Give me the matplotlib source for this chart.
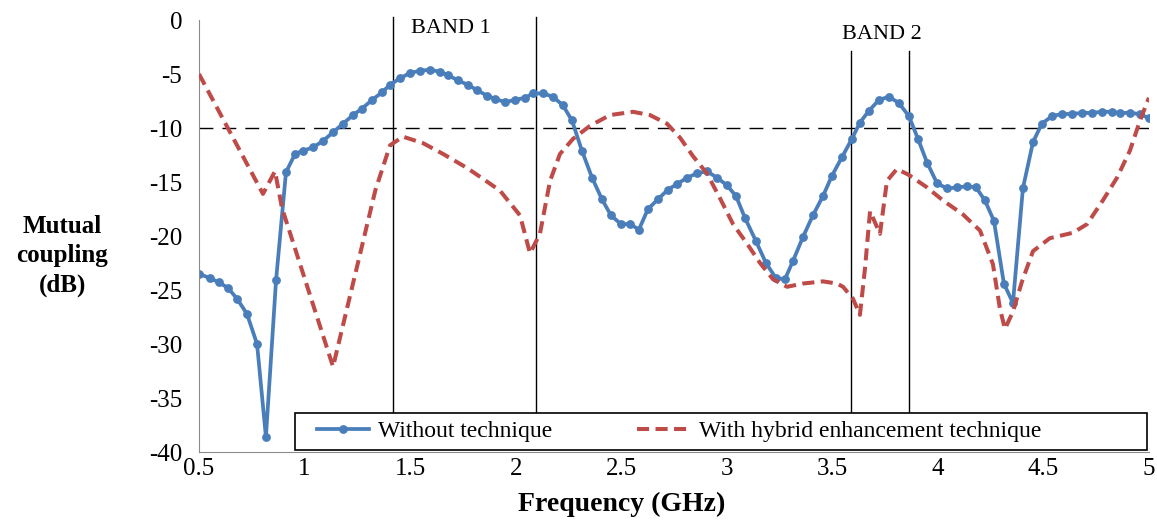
import matplotlib
matplotlib.use("Agg")
import matplotlib.pyplot as plt
from matplotlib.patches import Rectangle

plt.rcParams['font.family'] = ['Liberation Serif', 'DejaVu Serif']
plt.rcParams['axes.unicode_minus'] = False

# blue curve, without technique
freq_without = [0.5, 0.552, 0.595, 0.637, 0.68, 0.727, 0.775, 0.817, 0.865, 0.912,
                0.955, 0.993, 1.04, 1.087, 1.135, 1.182, 1.23, 1.272, 1.32, 1.367,
                1.405, 1.452, 1.5, 1.547, 1.594, 1.642, 1.68, 1.727, 1.774, 1.817,
                1.864, 1.902, 1.95, 1.997, 2.044, 2.082, 2.13, 2.177, 2.224, 2.267,
                2.314, 2.362, 2.409, 2.452, 2.499, 2.542, 2.584, 2.627, 2.674, 2.722,
                2.764, 2.812, 2.859, 2.906, 2.954, 3.001, 3.044, 3.086, 3.139, 3.186,
                3.233, 3.276, 3.314, 3.361, 3.408, 3.456, 3.499, 3.546, 3.593, 3.631,
                3.674, 3.721, 3.769, 3.816, 3.863, 3.906, 3.949, 3.996, 4.043, 4.091,
                4.138, 4.181, 4.223, 4.266, 4.313, 4.356, 4.403, 4.451, 4.493, 4.541,
                4.588, 4.635, 4.683, 4.73, 4.778, 4.825, 4.863, 4.91, 4.958, 5.0]
s_without = [-23.5, -23.9, -24.3, -24.8, -25.8, -27.2, -30.0, -38.6, -24.1, -14.1,
             -12.4, -12.1, -11.8, -11.2, -10.4, -9.6, -8.8, -8.2, -7.4, -6.7,
             -6.0, -5.4, -4.9, -4.7, -4.6, -4.8, -5.1, -5.6, -6.0, -6.5,
             -7.0, -7.3, -7.6, -7.4, -7.2, -6.8, -6.8, -7.1, -7.9, -9.3,
             -12.1, -14.6, -16.6, -18.1, -18.9, -18.9, -19.4, -17.5, -16.6, -15.7,
             -15.2, -14.6, -14.2, -14.0, -14.6, -15.3, -16.3, -18.3, -20.5, -22.5,
             -23.9, -24.0, -22.3, -20.1, -18.1, -16.3, -14.4, -12.7, -11.0, -9.5,
             -8.4, -7.4, -7.1, -7.7, -8.9, -11.0, -13.2, -15.1, -15.6, -15.5,
             -15.4, -15.5, -16.7, -18.6, -24.4, -26.2, -15.6, -11.3, -9.6, -8.9,
             -8.7, -8.7, -8.6, -8.6, -8.5, -8.5, -8.6, -8.6, -8.7, -9.1]

# red dashed curve, with hybrid enhancement technique
freq_hybrid = [0.5, 0.803, 0.86, 0.893, 1.135, 1.335, 1.405, 1.466, 1.561, 1.656,
               1.77, 1.845, 1.926, 2.021, 2.068, 2.115, 2.163, 2.21, 2.272, 2.352,
               2.447, 2.556, 2.636, 2.717, 2.779, 2.84, 2.906, 2.968, 3.03, 3.096,
               3.158, 3.219, 3.286, 3.361, 3.456, 3.522, 3.551, 3.598, 3.631, 3.655,
               3.679, 3.726, 3.759, 3.806, 3.859, 3.949, 4.024, 4.119, 4.2, 4.261,
               4.294, 4.318, 4.356, 4.399, 4.451, 4.531, 4.64, 4.707, 4.782, 4.849,
               4.91, 4.958, 5.0]
s_hybrid = [-5.0, -16.1, -14.0, -17.4, -32.1, -15.8, -11.6, -10.8, -11.4, -12.4,
            -13.7, -14.7, -15.8, -18.1, -21.6, -19.8, -14.9, -12.4, -11.0, -9.8,
            -8.8, -8.5, -8.8, -9.6, -10.9, -12.6, -14.2, -16.5, -18.9, -20.7,
            -22.5, -24.0, -24.7, -24.4, -24.2, -24.4, -24.7, -25.8, -27.3, -23.0,
            -17.7, -19.8, -14.9, -13.8, -14.3, -15.5, -16.7, -18.0, -19.5, -22.6,
            -26.7, -28.6, -27.0, -24.2, -21.4, -20.2, -19.7, -18.9, -16.7, -14.6,
            -12.1, -9.3, -7.2]

band1 = [1.419, 2.096]
band2 = [3.589, 3.863]
threshold = -10
xticks = [0.5, 1, 1.5, 2, 2.5, 3, 3.5, 4, 4.5, 5]
yticks = [0, -5, -10, -15, -20, -25, -30, -35, -40]

blue = '#4A7EBB'
red = '#BE4B48'

fig = plt.figure(figsize=(11.57, 5.28), dpi=100)
ax = fig.add_axes([0.172, 0.1439, 0.821, 0.8182])

ax.axhline(threshold, color='black', lw=1.0, dashes=(10, 6.5), zorder=1)
for xb in band1:
    ax.plot([xb, xb], [0.3, -37], color='black', lw=1.0, zorder=1, clip_on=False)
for xb in band2:
    ax.plot([xb, xb], [-2.9, -37], color='black', lw=1.0, zorder=1, clip_on=False)

ax.plot(freq_without, s_without, color=blue, lw=2.7, marker='o', markersize=5.3,
        label='Without technique', zorder=2)
ax.plot(freq_hybrid, s_hybrid, color=red, lw=2.9, dashes=(3, 1.6),
        label='With hybrid enhancement technique', zorder=3)

ax.text(1.694, -0.75, 'BAND 1', fontsize=16, ha='center', va='center')
ax.text(3.735, -1.3, 'BAND 2', fontsize=16, ha='center', va='center')

ax.set_xlim(0.5, 5)
ax.set_ylim(-40, 0)
ax.set_xticks(xticks)
ax.set_xticklabels([str(v) for v in xticks])
ax.set_yticks(yticks)
ax.tick_params(length=0, labelsize=18)
ax.tick_params(axis='y', pad=12)
ax.tick_params(axis='x', pad=4)
for side in ['top', 'right']:
    ax.spines[side].set_visible(False)
ax.spines['left'].set_color('#8c8c8c')
ax.spines['bottom'].set_color('#8c8c8c')

# legend box at the bottom of the plot
ax.add_patch(Rectangle((0.101, 0.005), 0.897, 0.085, transform=ax.transAxes,
                       facecolor='white', edgecolor='black', lw=1.2, zorder=4))
leg = ax.legend(loc='center left', bbox_to_anchor=(0.124, 0.0475), ncol=2,
                frameon=False, fontsize=17, handlelength=2.2, handletextpad=0.4,
                columnspacing=3.6, borderpad=0, borderaxespad=0)
leg.set_zorder(5)

fig.text(0.537, 0.045, 'Frequency (GHz)', fontsize=20, fontweight='bold',
         ha='center', va='center')
fig.text(0.054, 0.515, 'Mutual\ncoupling\n(dB)', fontsize=18, fontweight='bold',
         ha='center', va='center', linespacing=1.35)

fig.savefig('out.png', dpi=100)
